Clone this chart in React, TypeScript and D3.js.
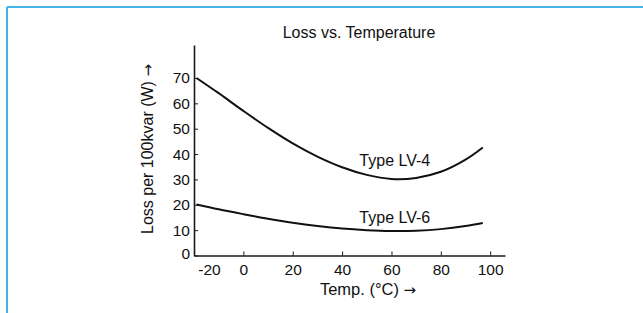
import { useRef, useEffect } from "react";
import * as d3 from "d3";

// Values
const temps = [-19, -10, 0, 10, 20, 30, 40, 50, 60, 70, 80, 90, 97];
const lossLV4 = [70, 64, 57, 50.3, 44.2, 39, 34.8, 31.8, 30.2, 30.6, 33, 37.8, 42.6];
const lossLV6 = [20.1, 18.2, 16.3, 14.5, 12.9, 11.6, 10.6, 10, 9.7, 9.8, 10.4, 11.6, 12.8];
const xTicks = [-20, 0, 20, 40, 60, 80, 100];
const yTicks = [0, 10, 20, 30, 40, 50, 60, 70];
const seriesNames = ["Type LV-4", "Type LV-6"];

const WIDTH = 643;
const HEIGHT = 313;
const FONT = "'Liberation Sans', Arial, Helvetica, sans-serif";
const ARROW_FONT = "'DejaVu Sans', sans-serif";

const App = () => {
  const svgRef = useRef<SVGSVGElement>(null);

  useEffect(() => {
    const svg = d3.select(svgRef.current);
    svg.selectAll("*").remove();

    // blue frame (top + left edges only visible)
    svg.append("line").attr("x1", 7).attr("x2", WIDTH).attr("y1", 7).attr("y2", 7)
      .style("stroke", "#42b4e8").style("stroke-width", 2);
    svg.append("line").attr("x1", 7).attr("x2", 7).attr("y1", 7).attr("y2", HEIGHT)
      .style("stroke", "#42b4e8").style("stroke-width", 2);

    const xScale = d3.scaleLinear().domain([-20, 106]).range([194, 505]);
    const yScale = d3.scaleLinear().domain([0, 83]).range([255.5, 45]);

    // X axis
    const xAxis = svg.append("g")
      .attr("transform", `translate(0,${yScale(0)})`)
      .call(
        d3.axisBottom(xScale).tickValues(xTicks).tickFormat((d) => String(d))
          .tickSizeInner(-4).tickSizeOuter(0).tickPadding(8)
      );
    xAxis.select(".domain").style("stroke", "#1a1a1a").style("stroke-width", 1.6);
    xAxis.selectAll(".tick line").style("stroke", "#1a1a1a").style("stroke-width", 1);
    xAxis.selectAll("text").style("font-size", "15.5px").style("font-family", FONT).style("fill", "#111");
    // first label is pushed right, off the y-axis zero label
    xAxis.selectAll<SVGTextElement, number>("text").filter((d) => d === -20).attr("dx", 15);

    // Y axis
    const yAxis = svg.append("g")
      .attr("transform", `translate(${xScale(-20)},0)`)
      .call(
        d3.axisLeft(yScale).tickValues(yTicks).tickFormat((d) => String(d))
          .tickSizeInner(-4).tickSizeOuter(0).tickPadding(4)
      );
    yAxis.select(".domain").style("stroke", "#1a1a1a").style("stroke-width", 1.6);
    yAxis.selectAll(".tick line").style("stroke", "#1a1a1a").style("stroke-width", 1);
    yAxis.selectAll("text").style("font-size", "15.5px").style("font-family", FONT).style("fill", "#111");
    yAxis.selectAll<SVGTextElement, number>("text").filter((d) => d === 0).attr("dy", "0.2em");

    // Curves
    const line = d3.line<[number, number]>()
      .x((d) => xScale(d[0]))
      .y((d) => yScale(d[1]))
      .curve(d3.curveCatmullRom.alpha(0.5));

    [lossLV4, lossLV6].forEach((vals) => {
      svg.append("path")
        .datum(temps.map((t, i) => [t, vals[i]] as [number, number]))
        .attr("fill", "none")
        .attr("stroke", "#111")
        .attr("stroke-width", 2)
        .attr("d", line);
    });

    // Series labels
    svg.append("text").attr("x", xScale(47)).attr("y", yScale(35.3))
      .style("font-size", "16px").style("font-family", FONT).style("fill", "#111")
      .text(seriesNames[0]);
    svg.append("text").attr("x", xScale(47)).attr("y", yScale(12.7))
      .style("font-size", "16px").style("font-family", FONT).style("fill", "#111")
      .text(seriesNames[1]);

    // Title
    svg.append("text").attr("x", 359).attr("y", 38)
      .attr("text-anchor", "middle")
      .style("font-size", "16px").style("font-family", FONT).style("fill", "#111")
      .text("Loss vs. Temperature");

    // Axis labels (arrow drawn in DejaVu, which has a fuller glyph)
    const xLabel = svg.append("text").attr("x", 368).attr("y", 295)
      .attr("text-anchor", "middle")
      .style("font-size", "16.5px").style("font-family", FONT).style("fill", "#111");
    xLabel.append("tspan").text("Temp. (°C) ");
    xLabel.append("tspan").style("font-family", ARROW_FONT).style("font-size", "15px").text("→");

    const yLabel = svg.append("text")
      .attr("transform", "translate(152.5,149) rotate(-90)")
      .attr("text-anchor", "middle")
      .style("font-size", "16px").style("font-family", FONT).style("fill", "#111");
    yLabel.append("tspan").text("Loss per 100kvar (W) ");
    yLabel.append("tspan").style("font-family", ARROW_FONT).style("font-size", "15px").text("→");
  }, []);

  return (
    <div style={{ position: "fixed", left: 0, top: 0, background: "#fff" }}>
      <svg ref={svgRef} width={WIDTH} height={HEIGHT}></svg>
    </div>
  );
};

export default App;
